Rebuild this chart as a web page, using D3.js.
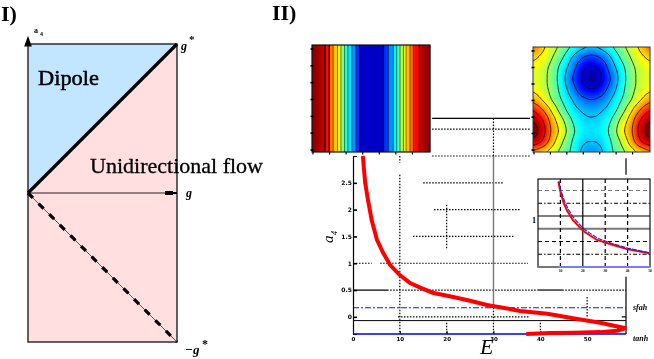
<!DOCTYPE html>
<html lang="en">
<head>
<meta charset="UTF-8" />
<title>Dipole and unidirectional flow</title>
<script src="https://cdn.jsdelivr.net/npm/d3@7"></script>
<style>
  html, body { margin: 0; background: #fff; }
  svg { display: block; filter: blur(0.3px); }
  text { font-family: "Liberation Serif", serif; fill: #000; }
  .tick text { font-family: "DejaVu Sans", sans-serif; font-weight: bold; }
</style>
</head>
<body>
<svg id="chart" width="654" height="359"></svg>
<script>
// left panel, in units of g*
const dipoleRegion = [[0, 0], [1, 1], [0, 1]];
const flowRegion = [[0, 0], [1, 1], [1, -1], [0, -1]];
const solidBoundary = [[0, 0], [1, 1]];
const dashedBoundary = [[0, 0], [1, -1]];

// main plot: red curve E vs a4
const curveE = [2.1, 2.6, 3.2, 4.0, 5.1, 6.4, 7.9, 10, 12.2, 14.5, 17, 21.4, 25, 28.6, 32, 35.7, 41.5, 47.9, 52.8, 56, 58.3, 56.4, 52.8, 47, 42, 37];
const curveA = [3, 2.5, 2.18, 1.8, 1.44, 1.2, 0.97, 0.78, 0.63, 0.54, 0.45, 0.37, 0.3, 0.22, 0.17, 0.11, 0.056, -0.04, -0.11, -0.17, -0.21, -0.26, -0.285, -0.295, -0.3, -0.32];
const mainXTicks = [0, 10, 20, 30, 40, 50];
const mainYTicks = [0, 0.5, 1, 1.5, 2, 2.5];

const sfahLevel = 0.17;
const tanhLevel = -0.32;
const blackLevel = -0.07;

// grid pieces that survive around the insets: [level, from, to, style]
const hGrid = [
  [3.7, 16.9, 37.8, "solid"], [3.5, 16.9, 37.8, "dotted"], [3, 16.9, 37.8, "dotted"],
  [2.5, 15, 32.3, "dotted"], [2, 17.3, 35.7, "dotted"], [1.5, 12.8, 34.6, "dotted"],
  [1, 0, 4, "dotted"], [1, 5.8, 39.3, "dotted"],
  [0.5, 0, 7.3, "solid"], [0.5, 7.3, 39.4, "dotted"], [0.5, 39.4, 44.7, "solid"], [0.5, 44.7, 58.3, "dotted"],
  [0, 9.6, 37.8, "dotted"], [0, 57.4, 58.3, "solid"]
];
const vGrid = [
  [10, 3, 2.88, "dotted"], [10, 2.65, -0.32, "dotted"],
  [20, 2.09, 1.25, "dotted"], [20, -0.11, -0.32, "dotted"],
  [30, 3.7, 3, "dotted"], [30, 3, 0.17, "gray"], [30, 0.17, -0.32, "dotted"],
  [40, -0.11, -0.32, "dotted"],
  [50, 0.37, 0, "dotted"],
  [58.3, 2.96, 2.65, "solid"], [58.3, 0.75, -0.32, "solid"]
];

// inset
const insetE = [9.1, 10, 11.3, 13, 15.6, 20.1, 26.3, 32.1, 39.7, 49.6];
const insetRed = [1.67, 1.48, 1.27, 1.1, 0.92, 0.71, 0.53, 0.45, 0.35, 0.27];
const insetBlueE = [9.3, 10.2, 11.8, 13.5, 16.2, 20.6, 26.8, 32.5, 40, 49.6];
const insetBlue = [1.69, 1.5, 1.3, 1.13, 0.95, 0.74, 0.56, 0.47, 0.37, 0.28];
const insetXGrid = [[10, "dashed"], [20, "solid"], [30, "dashed"], [40, "dashed"]];
const insetYGrid = [[0.25, "dashdot"], [0.5, "dashed"], [0.75, "gray"], [1, "solid"], [1.25, "dashdot"], [1.5, "grayDash"]];
const insetXLabels = [10, 20, 30, 40, 50];

// left map: vertical bands, percent of width, jet value at each band's two sides
const bandEdges = [0, 11, 14.6, 18, 21.7, 24.5, 27.6, 30.4, 33.8, 37.2, 40.3, 60.6, 64.8, 69, 71.8, 74.6, 77.5, 79.7, 83, 85.9, 91, 100];
const bandFrom = [1, 0.87, 0.77, 0.69, 0.61, 0.51, 0.43, 0.36, 0.28, 0.18, 0.07, 0.17, 0.26, 0.36, 0.44, 0.53, 0.61, 0.68, 0.76, 0.86, 0.93];
const bandTo = [0.92, 0.86, 0.75, 0.67, 0.59, 0.49, 0.41, 0.34, 0.26, 0.17, 0.07, 0.18, 0.27, 0.37, 0.46, 0.55, 0.63, 0.7, 0.78, 0.88, 1];
const heavyEdges = [11, 14.6, 40.3, 60.6, 91];

// right map: values, rows top to bottom
const fieldRows = [
  [0.76, 0.67, 0.58, 0.50, 0.41, 0.34, 0.31, 0.34, 0.41, 0.50, 0.58, 0.67, 0.76],
  [0.67, 0.62, 0.54, 0.44, 0.32, 0.22, 0.18, 0.22, 0.32, 0.44, 0.54, 0.62, 0.67],
  [0.62, 0.58, 0.50, 0.38, 0.26, 0.13, 0.08, 0.13, 0.26, 0.38, 0.50, 0.58, 0.62],
  [0.60, 0.57, 0.49, 0.36, 0.22, 0.10, 0.03, 0.10, 0.22, 0.36, 0.49, 0.57, 0.60],
  [0.63, 0.58, 0.50, 0.38, 0.26, 0.15, 0.10, 0.15, 0.26, 0.38, 0.50, 0.58, 0.63],
  [0.72, 0.64, 0.53, 0.42, 0.32, 0.24, 0.21, 0.24, 0.32, 0.42, 0.53, 0.64, 0.72],
  [0.86, 0.76, 0.62, 0.48, 0.37, 0.31, 0.29, 0.31, 0.37, 0.48, 0.62, 0.76, 0.86],
  [0.97, 0.87, 0.70, 0.56, 0.43, 0.35, 0.33, 0.35, 0.43, 0.56, 0.70, 0.87, 0.97],
  [1.02, 0.91, 0.73, 0.60, 0.46, 0.37, 0.35, 0.37, 0.46, 0.60, 0.73, 0.91, 1.02],
  [0.94, 0.85, 0.69, 0.55, 0.43, 0.34, 0.32, 0.34, 0.43, 0.55, 0.69, 0.85, 0.94],
  [0.74, 0.68, 0.60, 0.50, 0.41, 0.31, 0.27, 0.31, 0.41, 0.50, 0.60, 0.68, 0.74]
];
const contourLevels = [0.1, 0.21, 0.32, 0.43, 0.54, 0.65, 0.76, 0.87, 0.98];
const mapTicks = [0, 1, 2, 3, 4, 5, 6];

const svg = d3.select("#chart");
const jet = d3.scaleLinear()
  .domain([0, 0.125, 0.375, 0.625, 0.875, 1])
  .range(["#00007f", "#0000ff", "#00ffff", "#ffff00", "#ff0000", "#7f0000"])
  .clamp(true);
const dashes = { solid: null, dotted: "1.5,1.5", dashed: "4,3", dashdot: "4,2,1.5,2", gray: null, grayDash: "4,3" };

// ----- panel I
const gx = d3.scaleLinear().domain([0, 1]).range([28, 177]);
const ay = d3.scaleLinear().domain([-1, 1]).range([342, 44]);
const region = d3.line().x(d => gx(d[0])).y(d => ay(d[1]));

svg.append("path").attr("d", region(flowRegion) + "Z").attr("fill", "#ffdfe0");
svg.append("path").attr("d", region(dipoleRegion) + "Z").attr("fill", "#c2e6ff");
svg.append("rect").attr("x", gx(0)).attr("y", ay(1))
  .attr("width", gx(1) - gx(0)).attr("height", ay(-1) - ay(1))
  .attr("fill", "none").attr("stroke", "#111").attr("stroke-width", 1.3);
svg.append("line").attr("x1", gx(0)).attr("x2", gx(1)).attr("y1", ay(0)).attr("y2", ay(0))
  .attr("stroke", "#222").attr("stroke-width", 1);
svg.append("path").attr("d", region(solidBoundary)).attr("stroke", "#000").attr("stroke-width", 3.2).attr("fill", "none");
svg.append("path").attr("d", region(dashedBoundary)).attr("stroke", "#333").attr("stroke-width", 0.8).attr("fill", "none");
svg.append("path").attr("d", region(dashedBoundary)).attr("stroke", "#000").attr("stroke-width", 3.2)
  .attr("stroke-dasharray", "7,8").attr("fill", "none");
// axis arrows
svg.append("path").attr("d", d3.symbol(d3.symbolTriangle, 40)())
  .attr("transform", `translate(${gx(0)},${ay(1) - 1}) scale(0.8,1.3)`);
svg.append("rect").attr("x", gx(1) - 12).attr("y", ay(0) - 2).attr("width", 8).attr("height", 4);
svg.append("line").attr("x1", gx(1) - 5).attr("x2", gx(1)).attr("y1", ay(0)).attr("y2", ay(0))
  .attr("stroke", "#000").attr("stroke-width", 2);

function label(str, x, y, size, opts = {}) {
  const t = svg.append("text").attr("x", x).attr("y", y).attr("font-size", size).text(str);
  if (opts.italic) t.attr("font-style", "italic");
  if (opts.bold) t.attr("font-weight", "bold");
  if (opts.rotate) t.attr("transform", `rotate(${opts.rotate} ${x} ${y})`);
  if (opts.len) t.attr("textLength", opts.len).attr("lengthAdjust", "spacingAndGlyphs");
  if (opts.heavy) t.attr("stroke", "#000").attr("stroke-width", opts.heavy);
  return t;
}
label("I)", 1, 21, 22, { bold: true });
label("II)", 272, 20, 22, { bold: true });
label("Dipole", 38, 85, 22, { len: 61, heavy: 0.5 });
label("Unidirectional flow", 90, 173, 22, { len: 173, heavy: 0.3 });
label("a", 34, 33, 8, { bold: true });
label("4", 40, 36, 6, { bold: true });
label("g", 181, 50, 12, { italic: true, bold: true });
label("*", 189, 43, 11, { bold: true });
label("g", 186, 197, 12, { italic: true, bold: true });
label("−g", 185, 354, 13, { italic: true, bold: true });
label("*", 202, 348, 12, { bold: true });

// ----- main plot
const x = d3.scaleLinear().domain([0, 58.3]).range([353, 626]);
const y = d3.scaleLinear().domain([tanhLevel, 3]).range([334, 156]);

svg.append("g").selectAll("line").data(hGrid).join("line")
  .attr("x1", d => x(d[1])).attr("x2", d => x(d[2]))
  .attr("y1", d => y(d[0])).attr("y2", d => y(d[0]))
  .attr("stroke", "#000").attr("stroke-width", 1.2)
  .attr("stroke-dasharray", d => dashes[d[3]]);
svg.append("g").selectAll("line").data(vGrid).join("line")
  .attr("x1", d => x(d[0])).attr("x2", d => x(d[0]))
  .attr("y1", d => y(d[1])).attr("y2", d => y(d[2]))
  .attr("stroke", d => d[3] === "gray" ? "#777" : "#000")
  .attr("stroke-width", d => d[3] === "gray" ? 1.4 : 1.2)
  .attr("stroke-dasharray", d => dashes[d[3]]);

svg.append("line").attr("x1", x(0)).attr("x2", x(58.3)).attr("y1", y(blackLevel)).attr("y2", y(blackLevel))
  .attr("stroke", "#000").attr("stroke-width", 1);
svg.append("line").attr("x1", x(0)).attr("x2", x(58.3)).attr("y1", y(sfahLevel)).attr("y2", y(sfahLevel))
  .attr("stroke", "#1a1ad0").attr("stroke-width", 1.1).attr("stroke-dasharray", "6,2,2,2");

const xAxis = d3.axisBottom(x).tickValues(mainXTicks).tickSize(-3).tickPadding(3);
const yAxis = d3.axisLeft(y).tickValues(mainYTicks).tickSize(-4).tickPadding(1).tickFormat(d3.format("~g"));
const xg = svg.append("g").attr("transform", `translate(0,${y(tanhLevel)})`).call(xAxis);
const yg = svg.append("g").attr("transform", `translate(${x(0)},0)`).call(yAxis);
xg.select(".domain").remove();
xg.selectAll(".tick line").attr("stroke-width", 1);
yg.select(".domain").attr("stroke-width", 1.2);
yg.selectAll(".tick line").attr("stroke-width", 1.6);
xg.selectAll("text").attr("font-size", 5.5);
yg.selectAll("text").attr("font-size", 6);

svg.append("line").attr("x1", x(0)).attr("x2", x(58.3)).attr("y1", y(tanhLevel)).attr("y2", y(tanhLevel))
  .attr("stroke", "#0000e0").attr("stroke-width", 1.4);

const mainLine = d3.line().x(d => x(d[0])).y(d => y(d[1]));
svg.append("path").datum(d3.zip(curveE, curveA)).attr("d", mainLine)
  .attr("fill", "none").attr("stroke", "#ff0000").attr("stroke-width", 4);

label("sfah", 633, 310, 8, { italic: true, bold: true });
label("tanh", 633, 341, 8, { italic: true, bold: true });
label("E", 480, 354, 22, { italic: true });
label("a", 333, 243, 15, { italic: true, rotate: -90 });
label("4", 337, 235, 8, { italic: true, rotate: -90 });

// ----- inset
const ix = d3.scaleLinear().domain([0, 50]).range([538, 650]);
const iy = d3.scaleLinear().domain([0, 1.725]).range([267, 179]);
svg.append("rect").attr("x", 528).attr("y", 176).attr("width", 126).attr("height", 100).attr("fill", "#fff");
svg.append("g").selectAll("line").data(insetYGrid).join("line")
  .attr("x1", ix(0)).attr("x2", ix(50)).attr("y1", d => iy(d[0])).attr("y2", d => iy(d[0]))
  .attr("stroke", d => d[1].startsWith("gray") ? "#777" : "#000")
  .attr("stroke-width", d => d[1] === "gray" ? 1.8 : 1.2)
  .attr("stroke-dasharray", d => dashes[d[1]]);
svg.append("g").selectAll("line").data(insetXGrid).join("line")
  .attr("x1", d => ix(d[0])).attr("x2", d => ix(d[0])).attr("y1", iy(0)).attr("y2", iy(1.725))
  .attr("stroke", "#000").attr("stroke-width", 1.2)
  .attr("stroke-dasharray", d => dashes[d[1]]);
svg.append("rect").attr("x", ix(0)).attr("y", iy(1.725)).attr("width", ix(50) - ix(0)).attr("height", iy(0) - iy(1.725))
  .attr("fill", "none").attr("stroke", "#111").attr("stroke-width", 1.2);
svg.append("line").attr("x1", ix(0)).attr("x2", ix(50)).attr("y1", iy(0)).attr("y2", iy(0))
  .attr("stroke", "#777").attr("stroke-width", 2);
svg.append("line").attr("x1", ix(9)).attr("x2", ix(50)).attr("y1", iy(0)).attr("y2", iy(0))
  .attr("stroke", "#7a7aff").attr("stroke-width", 2);
const insetLine = d3.line().x(d => ix(d[0])).y(d => iy(d[1]));
svg.append("path").datum(d3.zip(insetE, insetRed)).attr("d", insetLine)
  .attr("fill", "none").attr("stroke", "#ff0000").attr("stroke-width", 2);
svg.append("path").datum(d3.zip(insetBlueE, insetBlue)).attr("d", insetLine)
  .attr("fill", "none").attr("stroke", "#2020e0").attr("stroke-width", 1.1).attr("stroke-dasharray", "5,1");
svg.append("g").selectAll("text").data(insetXLabels).join("text")
  .attr("x", d => ix(d)).attr("y", 272).attr("text-anchor", "middle")
  .attr("font-size", 3.5).attr("font-weight", "bold").text(d => d);
label("1", 532, 223, 8, { bold: true });

// ----- left map
function mapTicksFor(g, left, top, w, h) {
  const tx = d3.scaleLinear().domain([0, 7]).range([left + 1, left + w - 1]);
  const ty = d3.scaleLinear().domain([0, 6]).range([top + 4, top + h - 2]);
  g.append("g").selectAll("line").data(mapTicks).join("line")
    .attr("x1", d => tx(d)).attr("x2", d => tx(d)).attr("y1", top + h).attr("y2", top + h + 2.5)
    .attr("stroke", "#000").attr("stroke-width", 1.2);
  g.append("g").selectAll("line").data(mapTicks).join("line")
    .attr("x1", left - 1.5).attr("x2", left + 1.5).attr("y1", d => ty(d)).attr("y2", d => ty(d))
    .attr("stroke", "#000").attr("stroke-width", 1.6);
}

const leftMap = { x: 312, y: 45, w: 118, h: 107 };
const bx = d3.scaleLinear().domain([0, 100]).range([leftMap.x, leftMap.x + leftMap.w]);
const defs = svg.append("defs");
bandFrom.forEach((v, i) => {
  const grad = defs.append("linearGradient").attr("id", "band" + i);
  grad.append("stop").attr("offset", 0).attr("stop-color", jet(v));
  grad.append("stop").attr("offset", 1).attr("stop-color", jet(bandTo[i]));
});
const lg = svg.append("g");
lg.selectAll("rect").data(bandFrom).join("rect")
  .attr("x", (d, i) => bx(bandEdges[i])).attr("y", leftMap.y)
  .attr("width", (d, i) => bx(bandEdges[i + 1]) - bx(bandEdges[i]) + 0.3).attr("height", leftMap.h)
  .attr("fill", (d, i) => `url(#band${i})`);
lg.append("g").selectAll("line").data(bandEdges.slice(1, -1)).join("line")
  .attr("x1", d => bx(d)).attr("x2", d => bx(d)).attr("y1", leftMap.y).attr("y2", leftMap.y + leftMap.h)
  .attr("stroke", "#000")
  .attr("stroke-width", d => heavyEdges.includes(d) ? 1.2 : 0.7)
  .attr("stroke-opacity", d => heavyEdges.includes(d) ? 1 : 0.75);
lg.append("rect").attr("x", leftMap.x).attr("y", leftMap.y).attr("width", leftMap.w).attr("height", leftMap.h)
  .attr("fill", "none").attr("stroke", "#111").attr("stroke-width", 1.2);
mapTicksFor(lg, leftMap.x, leftMap.y, leftMap.w, leftMap.h);

// ----- right map
// the read-off rows are coarse, so resample them smoothly before contouring
function catmull(a, b, c, d, t) {
  return 0.5 * (2 * b + (c - a) * t + (2 * a - 5 * b + 4 * c - d) * t * t + (3 * b - a - 3 * c + d) * t * t * t);
}
function resample(rows, k) {
  const nr = rows.length, nc = rows[0].length;
  const at = (r, c) => rows[Math.max(0, Math.min(nr - 1, r))][Math.max(0, Math.min(nc - 1, c))];
  const w = (nc - 1) * k + 1, h = (nr - 1) * k + 1, out = new Array(w * h);
  for (let j = 0; j < h; j++) {
    const r = Math.min(Math.floor(j / k), nr - 2), tr = j / k - r;
    for (let i = 0; i < w; i++) {
      const c = Math.min(Math.floor(i / k), nc - 2), tc = i / k - c;
      const col = [-1, 0, 1, 2].map(dr => catmull(at(r + dr, c - 1), at(r + dr, c), at(r + dr, c + 1), at(r + dr, c + 2), tc));
      out[j * w + i] = catmull(col[0], col[1], col[2], col[3], tr);
    }
  }
  return { values: out, w, h };
}

const rightMap = { x: 533, y: 47, w: 117, h: 105 };
const fine = resample(fieldRows, 8);
const cx = d3.scaleLinear().domain([0.5, fine.w - 0.5]).range([rightMap.x, rightMap.x + rightMap.w]);
const cy = d3.scaleLinear().domain([0.5, fine.h - 0.5]).range([rightMap.y, rightMap.y + rightMap.h]);
const cpath = d3.geoPath(d3.geoTransform({
  point(px, py) { this.stream.point(cx(px), cy(py)); }
}));
defs.append("clipPath").attr("id", "rightClip").append("rect")
  .attr("x", rightMap.x).attr("y", rightMap.y).attr("width", rightMap.w).attr("height", rightMap.h);
const rg = svg.append("g");
const rc = rg.append("g").attr("clip-path", "url(#rightClip)");
const contours = d3.contours().size([fine.w, fine.h]);
rc.append("g").selectAll("path").data(contours.thresholds(d3.range(-0.1, 1.1, 0.01))(fine.values)).join("path")
  .attr("d", cpath).attr("fill", d => jet(d.value + 0.005));
rc.append("g").selectAll("path").data(contours.thresholds(contourLevels)(fine.values)).join("path")
  .attr("d", cpath).attr("fill", "none").attr("stroke", "#000").attr("stroke-width", 0.9).attr("stroke-opacity", 0.85);
rg.append("rect").attr("x", rightMap.x).attr("y", rightMap.y).attr("width", rightMap.w).attr("height", rightMap.h)
  .attr("fill", "none").attr("stroke", "#333").attr("stroke-width", 1);
mapTicksFor(rg, rightMap.x, rightMap.y, rightMap.w, rightMap.h);
</script>
</body>
</html>
